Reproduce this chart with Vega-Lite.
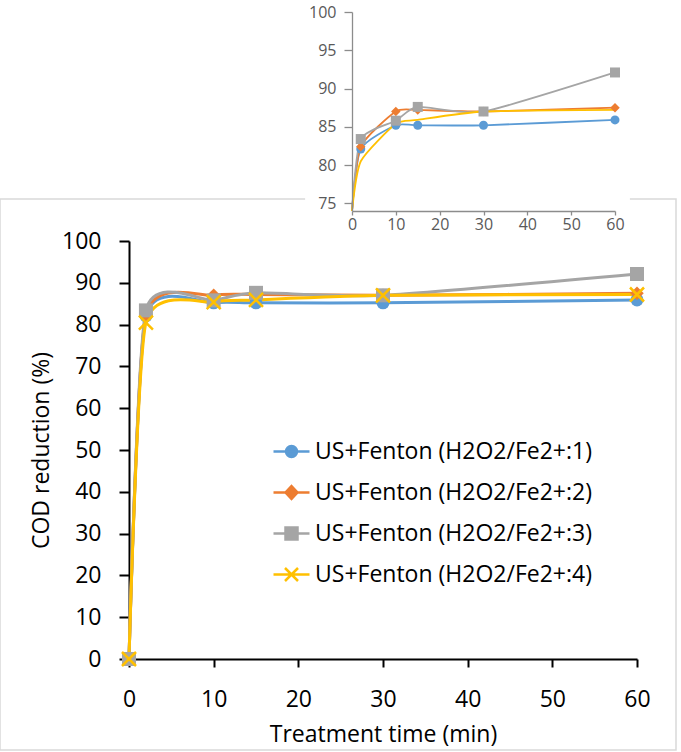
{
  "$schema": "https://vega.github.io/schema/vega-lite/v6.json",
  "width": 676,
  "height": 551,
  "autosize": {"type": "none"},
  "padding": {"left": 0, "top": 199, "right": 5, "bottom": 2},
  "background": "white",
  "config": {"view": {"stroke": "#d9d9d9", "strokeWidth": 1.5}, "font": "Open Sans"},
  "data": {"values": [
    {"t": 0, "cod": 0, "s": "US+Fenton (H2O2/Fe2+:1)"},
    {"t": 2, "cod": 82.1, "s": "US+Fenton (H2O2/Fe2+:1)"},
    {"t": 10, "cod": 85.2, "s": "US+Fenton (H2O2/Fe2+:1)"},
    {"t": 15, "cod": 85.2, "s": "US+Fenton (H2O2/Fe2+:1)"},
    {"t": 30, "cod": 85.2, "s": "US+Fenton (H2O2/Fe2+:1)"},
    {"t": 60, "cod": 85.9, "s": "US+Fenton (H2O2/Fe2+:1)"},
    {"t": 0, "cod": 0, "s": "US+Fenton (H2O2/Fe2+:2)"},
    {"t": 2, "cod": 82.4, "s": "US+Fenton (H2O2/Fe2+:2)"},
    {"t": 10, "cod": 87.0, "s": "US+Fenton (H2O2/Fe2+:2)"},
    {"t": 15, "cod": 87.2, "s": "US+Fenton (H2O2/Fe2+:2)"},
    {"t": 30, "cod": 87.0, "s": "US+Fenton (H2O2/Fe2+:2)"},
    {"t": 60, "cod": 87.5, "s": "US+Fenton (H2O2/Fe2+:2)"},
    {"t": 0, "cod": 0, "s": "US+Fenton (H2O2/Fe2+:3)"},
    {"t": 2, "cod": 83.4, "s": "US+Fenton (H2O2/Fe2+:3)"},
    {"t": 10, "cod": 85.8, "s": "US+Fenton (H2O2/Fe2+:3)"},
    {"t": 15, "cod": 87.6, "s": "US+Fenton (H2O2/Fe2+:3)"},
    {"t": 30, "cod": 87.0, "s": "US+Fenton (H2O2/Fe2+:3)"},
    {"t": 60, "cod": 92.1, "s": "US+Fenton (H2O2/Fe2+:3)"},
    {"t": 0, "cod": 0, "s": "US+Fenton (H2O2/Fe2+:4)"},
    {"t": 2, "cod": 80.5, "s": "US+Fenton (H2O2/Fe2+:4)"},
    {"t": 10, "cod": 85.4, "s": "US+Fenton (H2O2/Fe2+:4)"},
    {"t": 15, "cod": 85.9, "s": "US+Fenton (H2O2/Fe2+:4)"},
    {"t": 30, "cod": 87.0, "s": "US+Fenton (H2O2/Fe2+:4)"},
    {"t": 60, "cod": 87.2, "s": "US+Fenton (H2O2/Fe2+:4)"}
  ]},
  "layer": [
    {
      "layer": [
        {
          "data": {"values": [{"bg": 1}]},
          "mark": {"type": "rect", "fill": "white"},
          "encoding": {
            "x": {"datum": -10.7, "type": "quantitative", "scale": {"domain": [0, 60], "range": [352, 615]},
              "axis": {"orient": "bottom", "offset": -539, "values": [0, 10, 20, 30, 40, 50, 60], "title": null, "grid": false, "domainColor": "#8c8c8c", "domainWidth": 1.3, "tickColor": "#8c8c8c", "tickWidth": 1.3, "tickSize": 4, "labelPadding": 1, "labelFontSize": 16, "labelColor": "#595959", "labelFont": "Open Sans", "labelFlush": false, "labelOverlap": false, "zindex": 1}},
            "x2": {"datum": 63.4},
            "y": {"datum": 75, "type": "quantitative", "scale": {"domain": [75, 100], "range": [12, -187], "clamp": true},
              "axis": {"orient": "left", "offset": -352, "values": [75, 80, 85, 90, 95, 100], "title": null, "grid": false, "domainColor": "#8c8c8c", "domainWidth": 1.3, "tickColor": "#8c8c8c", "tickWidth": 1.3, "tickSize": 8, "labelPadding": 8, "labelFontSize": 16, "labelColor": "#595959", "labelFont": "Open Sans", "labelOverlap": false, "zindex": 1}},
            "y2": {"datum": 100}
          }
        },
        {
          "mark": {"type": "line", "interpolate": "cardinal", "tension": 0.4, "strokeWidth": 1.8},
          "encoding": {
            "x": {"field": "t", "type": "quantitative"},
            "y": {"field": "cod", "type": "quantitative"},
            "color": {"field": "s", "type": "nominal", "legend": null,
              "scale": {"domain": ["US+Fenton (H2O2/Fe2+:1)", "US+Fenton (H2O2/Fe2+:2)", "US+Fenton (H2O2/Fe2+:3)", "US+Fenton (H2O2/Fe2+:4)"], "range": ["#5b9bd5", "#ed7d31", "#a5a5a5", "#ffc000"]}},
            "order": {"field": "t", "type": "quantitative"}
          }
        },
        {
          "transform": [{"filter": "datum.t > 0 && datum.s !== 'US+Fenton (H2O2/Fe2+:4)'"}],
          "mark": {"type": "point", "filled": true, "opacity": 1},
          "encoding": {
            "x": {"field": "t", "type": "quantitative"},
            "y": {"field": "cod", "type": "quantitative"},
            "color": {"field": "s", "type": "nominal", "legend": null},
            "shape": {"field": "s", "type": "nominal", "legend": null,
              "scale": {"domain": ["US+Fenton (H2O2/Fe2+:1)", "US+Fenton (H2O2/Fe2+:2)", "US+Fenton (H2O2/Fe2+:3)"], "range": ["circle", "diamond", "square"]}},
            "size": {"field": "s", "type": "nominal", "legend": null,
              "scale": {"domain": ["US+Fenton (H2O2/Fe2+:1)", "US+Fenton (H2O2/Fe2+:2)", "US+Fenton (H2O2/Fe2+:3)"], "range": [81, 100, 81]}}
          }
        }
      ]
    },
    {
      "layer": [
        {
          "mark": {"type": "line", "interpolate": "cardinal", "tension": 0.4, "strokeWidth": 3},
          "encoding": {
            "x": {"field": "t", "type": "quantitative", "scale": {"domain": [0, 60], "range": [129, 637]},
              "axis": {"orient": "bottom", "offset": -91, "values": [0, 10, 20, 30, 40, 50, 60], "title": "Treatment time (min)", "grid": false, "domainColor": "black", "domainWidth": 2, "tickColor": "black", "tickWidth": 2, "tickSize": 8, "labelPadding": 21, "labelFontSize": 23, "labelColor": "black", "labelFont": "Open Sans", "labelFlush": false, "labelOverlap": false, "titleFontSize": 23, "titleFontWeight": "normal", "titleColor": "black", "titleFont": "Open Sans", "titlePadding": 12}},
            "y": {"field": "cod", "type": "quantitative", "scale": {"domain": [0, 100], "range": [460, 42]},
              "axis": {"orient": "left", "offset": -129, "values": [0, 10, 20, 30, 40, 50, 60, 70, 80, 90, 100], "title": "COD reduction (%)", "grid": false, "domainColor": "black", "domainWidth": 2, "tickColor": "black", "tickWidth": 2, "tickSize": 10, "labelPadding": 18, "labelFontSize": 23, "labelColor": "black", "labelFont": "Open Sans", "labelOverlap": false, "titleFontSize": 23, "titleFontWeight": "normal", "titleColor": "black", "titleFont": "Open Sans", "titlePadding": 8}},
            "color": {"field": "s", "type": "nominal", "legend": null,
              "scale": {"domain": ["US+Fenton (H2O2/Fe2+:1)", "US+Fenton (H2O2/Fe2+:2)", "US+Fenton (H2O2/Fe2+:3)", "US+Fenton (H2O2/Fe2+:4)"], "range": ["#5b9bd5", "#ed7d31", "#a5a5a5", "#ffc000"]}},
            "order": {"field": "t", "type": "quantitative"}
          }
        },
        {
          "transform": [{"filter": "datum.s !== 'US+Fenton (H2O2/Fe2+:4)'"}],
          "mark": {"type": "point", "filled": true, "opacity": 1},
          "encoding": {
            "x": {"field": "t", "type": "quantitative"},
            "y": {"field": "cod", "type": "quantitative"},
            "color": {"field": "s", "type": "nominal", "legend": null},
            "shape": {"field": "s", "type": "nominal", "legend": null,
              "scale": {"domain": ["US+Fenton (H2O2/Fe2+:1)", "US+Fenton (H2O2/Fe2+:2)", "US+Fenton (H2O2/Fe2+:3)"], "range": ["circle", "diamond", "square"]}},
            "size": {"field": "s", "type": "nominal", "legend": null,
              "scale": {"domain": ["US+Fenton (H2O2/Fe2+:1)", "US+Fenton (H2O2/Fe2+:2)", "US+Fenton (H2O2/Fe2+:3)"], "range": [169, 196, 225]}}
          }
        },
        {
          "transform": [{"filter": "datum.s === 'US+Fenton (H2O2/Fe2+:4)'"}],
          "mark": {"type": "point", "filled": false, "opacity": 1, "shape": "M-1,-1L1,1M-1,1L1,-1", "size": 196, "strokeWidth": 2.5},
          "encoding": {
            "x": {"field": "t", "type": "quantitative"},
            "y": {"field": "cod", "type": "quantitative"},
            "color": {"field": "s", "type": "nominal", "legend": null}
          }
        }
      ]
    },
    {
      "mark": {"type": "point", "filled": true, "opacity": 0, "strokeWidth": 2.5},
      "encoding": {
        "x": {"field": "t", "type": "quantitative", "axis": null, "scale": {"domain": [0, 60], "range": [129, 637]}},
        "y": {"field": "cod", "type": "quantitative", "axis": null, "scale": {"domain": [0, 100], "range": [460, 42]}},
        "color": {"field": "s", "type": "nominal",
          "scale": {"domain": ["US+Fenton (H2O2/Fe2+:1)", "US+Fenton (H2O2/Fe2+:2)", "US+Fenton (H2O2/Fe2+:3)", "US+Fenton (H2O2/Fe2+:4)"], "range": ["#5b9bd5", "#ed7d31", "#a5a5a5", "#ffc000"]},
          "legend": {"orient": "none", "legendX": 280, "legendY": 241, "title": null, "padding": 0, "labelFontSize": 23, "labelFont": "Open Sans", "labelColor": "black", "labelLimit": 500, "labelOffset": 12, "symbolSize": 400, "symbolStrokeWidth": 2.5, "symbolOpacity": 1, "rowPadding": 17}},
        "stroke": {"field": "s", "type": "nominal",
          "scale": {"domain": ["US+Fenton (H2O2/Fe2+:1)", "US+Fenton (H2O2/Fe2+:2)", "US+Fenton (H2O2/Fe2+:3)", "US+Fenton (H2O2/Fe2+:4)"], "range": ["#5b9bd5", "#ed7d31", "#a5a5a5", "#ffc000"]},
          "legend": {"orient": "none", "legendX": 280, "legendY": 241, "title": null, "padding": 0, "labelFontSize": 23, "labelFont": "Open Sans", "labelColor": "black", "labelLimit": 500, "labelOffset": 12, "symbolSize": 400, "symbolStrokeWidth": 2.5, "symbolOpacity": 1, "rowPadding": 17}},
        "shape": {"field": "s", "type": "nominal",
          "scale": {"domain": ["US+Fenton (H2O2/Fe2+:1)", "US+Fenton (H2O2/Fe2+:2)", "US+Fenton (H2O2/Fe2+:3)", "US+Fenton (H2O2/Fe2+:4)"],
            "range": ["M-1.8,0L1.8,0M-0.55,0A0.55,0.55,0,1,0,0.55,0A0.55,0.55,0,1,0,-0.55,0Z", "M-1.8,0L1.8,0M0,-0.65L0.6,0L0,0.65L-0.6,0Z", "M-1.8,0L1.8,0M-0.6,-0.6L0.6,-0.6L0.6,0.6L-0.6,0.6Z", "M-1.8,0L1.8,0M-0.65,-0.65L0.65,0.65M-0.65,0.65L0.65,-0.65"]},
          "legend": {"orient": "none", "legendX": 280, "legendY": 241, "title": null, "padding": 0, "labelFontSize": 23, "labelFont": "Open Sans", "labelColor": "black", "labelLimit": 500, "labelOffset": 12, "symbolSize": 400, "symbolStrokeWidth": 2.5, "symbolOpacity": 1, "rowPadding": 17}}
      }
    }
  ],
  "resolve": {
    "scale": {"x": "independent", "y": "independent", "color": "independent", "shape": "independent", "size": "independent", "stroke": "independent"},
    "axis": {"x": "independent", "y": "independent"},
    "legend": {"color": "independent", "shape": "independent", "size": "independent", "stroke": "independent"}
  }
}
